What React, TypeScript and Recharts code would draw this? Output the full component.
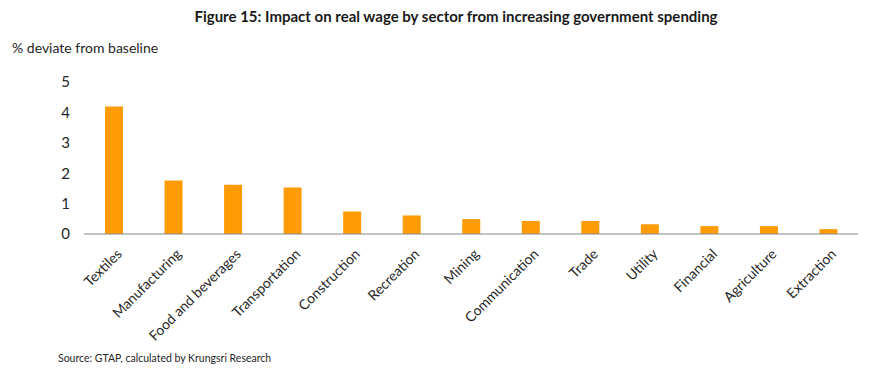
import { Bar, BarChart, XAxis, YAxis } from 'recharts';

const sectors = [
  'Textiles',
  'Manufacturing',
  'Food and beverages',
  'Transportation',
  'Construction',
  'Recreation',
  'Mining',
  'Communication',
  'Trade',
  'Utility',
  'Financial',
  'Agriculture',
  'Extraction',
];

const wageChange = [4.19, 1.76, 1.62, 1.53, 0.74, 0.61, 0.49, 0.43, 0.43, 0.32, 0.26, 0.26, 0.16];

const yTicks = [0, 1, 2, 3, 4, 5];

const FONT = 'Lato, "Open Sans", sans-serif';

const data = sectors.map((name, i) => ({ name, value: wageChange[i] }));

const SectorTick = ({ x, y, payload }: { x?: number; y?: number; payload?: { value: string } }) => (
  <text
    x={(x ?? 0) + 1}
    y={(y ?? 0) + 5}
    transform={`rotate(-45, ${(x ?? 0) + 1}, ${(y ?? 0) + 5})`}
    textAnchor="end"
    dominantBaseline="hanging"
    fontSize={14}
    fontFamily={FONT}
    fill="#262626"
  >
    {payload?.value}
  </text>
);

export default function App() {
  return (
    <div style={{ position: 'absolute', left: 0, top: 0, width: 870, height: 373, background: '#fff' }}>
      <BarChart
        width={870}
        height={373}
        data={data}
        margin={{ top: 82, right: 12, left: 0, bottom: 0 }}
      >
        <text x={456} y={22} textAnchor="middle" fontSize={15} fontWeight="bold" fontFamily={FONT} fill="#1a1a1a">
          Figure 15: Impact on real wage by sector from increasing government spending
        </text>
        <text x={12} y={53} fontSize={14} fontFamily={FONT} fill="#262626">
          % deviate from baseline
        </text>
        <text x={58} y={362} fontSize={10.5} fontFamily={FONT} fill="#262626">
          Source: GTAP, calculated by Krungsri Research
        </text>
        <YAxis
          width={84}
          domain={[0, 5]}
          ticks={yTicks}
          axisLine={false}
          tickLine={false}
          tickMargin={8}
          tick={{ fontSize: 15, fill: '#262626', fontFamily: FONT }}
        />
        <XAxis
          dataKey="name"
          interval={0}
          axisLine={{ stroke: '#868686', strokeWidth: 1 }}
          tickLine={false}
          tick={<SectorTick />}
          height={139}
        />
        <Bar dataKey="value" fill="#FF9B05" barSize={18} isAnimationActive={false} />
      </BarChart>
    </div>
  );
}
